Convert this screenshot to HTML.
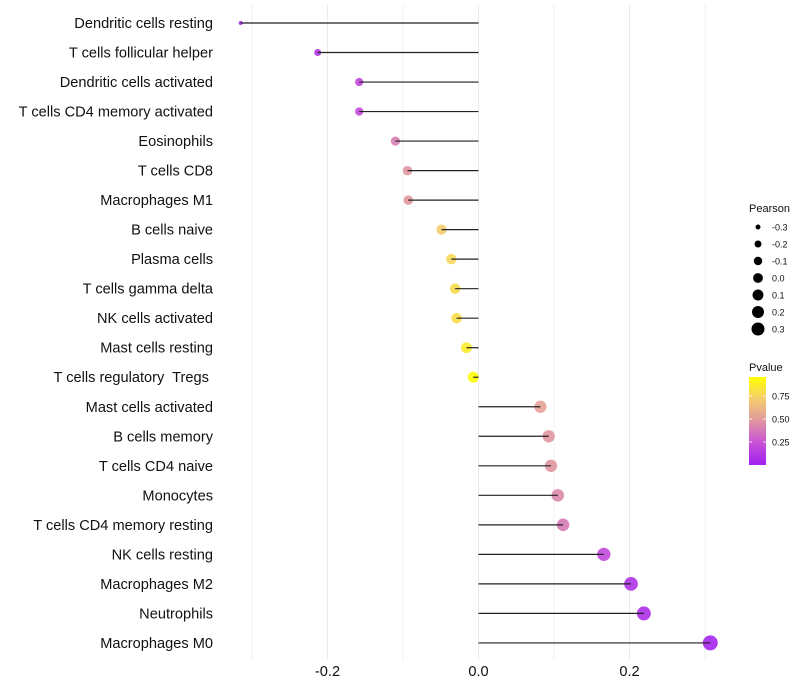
<!DOCTYPE html>
<html><head><meta charset="utf-8"><style>
html,body{margin:0;padding:0;background:#fff;}
svg{display:block;font-family:"Liberation Sans",Arial,sans-serif;}
text{white-space:pre;}
</style></head><body>
<svg id="chart" width="800" height="700"></svg>
<script>
const categories=["Dendritic cells resting","T cells follicular helper","Dendritic cells activated","T cells CD4 memory activated","Eosinophils","T cells CD8","Macrophages M1","B cells naive","Plasma cells","T cells gamma delta","NK cells activated","Mast cells resting","T cells regulatory  Tregs ","Mast cells activated","B cells memory","T cells CD4 naive","Monocytes","T cells CD4 memory resting","NK cells resting","Macrophages M2","Neutrophils","Macrophages M0"];
const pearson=[-0.315,-0.213,-0.158,-0.158,-0.110,-0.094,-0.093,-0.049,-0.036,-0.031,-0.029,-0.016,-0.007,0.082,0.093,0.096,0.105,0.112,0.166,0.202,0.219,0.307];
const pvalue=[0.05,0.12,0.22,0.22,0.42,0.5,0.5,0.75,0.8,0.82,0.83,0.9,0.98,0.55,0.5,0.5,0.45,0.4,0.22,0.1,0.08,0.03];
const xTicks=[-0.2,0,0.2];
const xTickLabels=["-0.2","0.0","0.2"];
const xMinor=[-0.3,-0.1,0.1,0.3];
const sizeLegend=[-0.3,-0.2,-0.1,0.0,0.1,0.2,0.3];
const sizeLegendLabels=["-0.3","-0.2","-0.1","0.0","0.1","0.2","0.3"];
const pTicks=[0.25,0.5,0.75];
const pTickLabels=["0.25","0.50","0.75"];

const NS="http://www.w3.org/2000/svg";
const svg=document.getElementById('chart');
function mk(t,a,p){const e=document.createElementNS(NS,t);for(const k in a)e.setAttribute(k,a[k]);(p||svg).appendChild(e);return e;}
const x=v=>478.5+v*755;
const y=i=>23+i*29.52;
const r=v=>Math.sqrt(Math.max(3,4+(v+0.315)/0.622*52));
const stops=[[0,[160,32,240]],[0.25,[200,80,215]],[0.5,[224,150,160]],[0.75,[245,205,110]],[1,[255,255,0]]];
function col(p){for(let i=1;i<stops.length;i++){if(p<=stops[i][0]){const a=stops[i-1],b=stops[i],t=(p-a[0])/(b[0]-a[0]);const c=a[1].map((v,j)=>Math.round(v+(b[1][j]-v)*t));return `rgb(${c})`;}}return 'rgb(255,255,0)';}

xMinor.forEach(v=>{const l=mk('line',{x1:x(v),x2:x(v),y1:5,y2:660,stroke:'#f0f0f0','stroke-width':1});

});
xTicks.forEach((v,i)=>{const l=mk('line',{x1:x(v),x2:x(v),y1:5,y2:660,stroke:'#ebebeb','stroke-width':1});


const t=mk('text',{x:x(v),y:676,'text-anchor':'middle','font-size':14.6,fill:'#111'});t.textContent=xTickLabels[i];

});

categories.forEach((c,i)=>{
const t=mk('text',{x:213,y:y(i)+5,'text-anchor':'end','font-size':14.6,fill:'#111'});t.textContent=c;


const d=mk('circle',{cx:x(pearson[i]),cy:y(i),r:r(pearson[i]),fill:col(pvalue[i]),'fill-opacity':0.9});


const l=mk('line',{x1:x(0),x2:x(pearson[i]),y1:y(i),y2:y(i),stroke:'#222','stroke-width':1.2});


});

const g=mk('g',{});


const lt=mk('text',{x:749,y:212,'font-size':11,fill:'#111'},g);lt.textContent='Pearson';
sizeLegend.forEach((v,i)=>{const cy=227+i*17;
const c=mk('circle',{cx:758,cy:cy,r:Math.sqrt(6+(v+0.3)/0.6*36),fill:'#000'},g);


const t=mk('text',{x:772,y:cy+3.5,'font-size':9,fill:'#111'},g);t.textContent=sizeLegendLabels[i];

});

const g2=mk('g',{});


const pt=mk('text',{x:749,y:371,'font-size':11,fill:'#111'},g2);pt.textContent='Pvalue';
const defs=mk('defs',{});const lg=mk('linearGradient',{id:'pg',x1:0,y1:1,x2:0,y2:0},defs);
stops.forEach(s=>mk('stop',{offset:s[0],'stop-color':`rgb(${s[1]})`},lg));
const bar=mk('rect',{x:749,y:377,width:17,height:88,fill:'url(#pg)'},g2);


const py=p=>465-p*92;
pTicks.forEach((p,i)=>{mk('line',{x1:749,x2:752,y1:py(p),y2:py(p),stroke:'#fff','stroke-width':0.8},g2);mk('line',{x1:763,x2:766,y1:py(p),y2:py(p),stroke:'#fff','stroke-width':0.8},g2);
const t=mk('text',{x:772,y:py(p)+3.5,'font-size':9,fill:'#111'},g2);t.textContent=pTickLabels[i];

});
</script>
</body></html>
